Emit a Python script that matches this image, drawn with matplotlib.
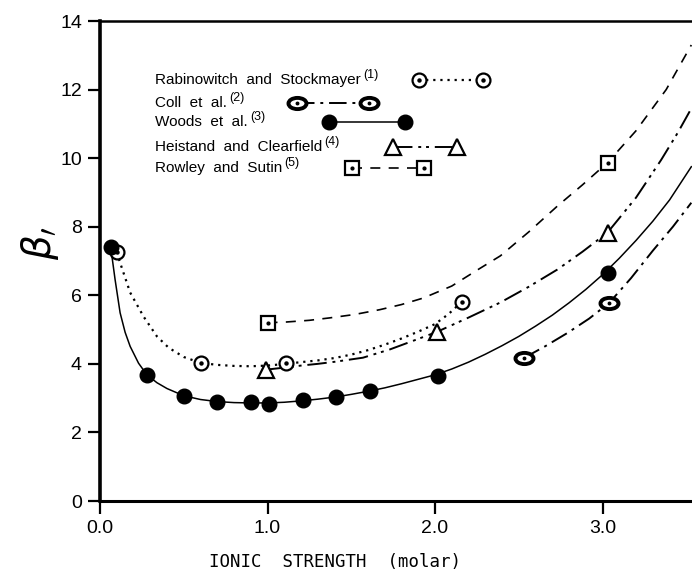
import numpy as np
import matplotlib
matplotlib.use("Agg")
import matplotlib.pyplot as plt
from matplotlib.path import Path

plt.rcParams['font.family'] = ['Liberation Sans', 'DejaVu Sans']

# ---------------- data ----------------
# measured points
rab_x = [0.10, 0.60, 1.11, 2.16]
rab_y = [7.26, 4.03, 4.03, 5.81]
coll_x = [2.53, 3.04]
coll_y = [4.17, 5.78]
woods_x = [0.064, 0.28, 0.50, 0.70, 0.90, 1.01, 1.21, 1.41, 1.61, 2.02, 3.03]
woods_y = [7.40, 3.68, 3.07, 2.90, 2.88, 2.84, 2.95, 3.03, 3.22, 3.65, 6.66]
heis_x = [0.99, 2.01, 3.03]
heis_y = [3.83, 4.93, 7.83]
rowl_x = [1.00, 3.03]
rowl_y = [5.20, 9.87]

# fitted curves
rab_cx = [0.10, 0.12, 0.18, 0.26, 0.34, 0.41, 0.50, 0.60, 0.70, 0.80, 0.90, 1.00, 1.11, 1.20, 1.30,
          1.40, 1.50, 1.60, 1.70, 1.80, 1.90, 2.00, 2.08, 2.16]
rab_cy = [7.26, 6.95, 6.08, 5.38, 4.80, 4.47, 4.20, 4.03, 3.97, 3.94, 3.93, 3.95, 4.00, 4.05, 4.10,
          4.17, 4.27, 4.40, 4.56, 4.74, 4.94, 5.16, 5.45, 5.81]
coll_cx = [2.53, 2.66, 2.79, 2.92, 3.04, 3.17, 3.30, 3.42, 3.53]
coll_cy = [4.17, 4.52, 4.90, 5.32, 5.78, 6.50, 7.30, 8.00, 8.70]
woods_cx = [0.064, 0.09, 0.12, 0.15, 0.18, 0.23, 0.28, 0.34, 0.40, 0.50, 0.60, 0.70, 0.80, 0.90,
            1.00, 1.10, 1.20, 1.30, 1.40, 1.50, 1.60, 1.70, 1.80, 1.90, 2.00, 2.10, 2.20, 2.30,
            2.40, 2.50, 2.60, 2.70, 2.80, 2.90, 3.00, 3.10, 3.20, 3.30, 3.40, 3.53]
woods_cy = [7.40, 6.46, 5.49, 4.92, 4.51, 4.02, 3.68, 3.45, 3.28, 3.07, 2.96, 2.90, 2.87, 2.86,
            2.86, 2.88, 2.92, 2.97, 3.03, 3.11, 3.20, 3.30, 3.42, 3.55, 3.68, 3.85, 4.05, 4.28,
            4.53, 4.80, 5.10, 5.42, 5.78, 6.17, 6.60, 7.08, 7.60, 8.16, 8.78, 9.75]
heis_cx = [0.99, 1.10, 1.20, 1.30, 1.40, 1.57, 1.73, 1.89, 2.01, 2.20, 2.39, 2.56, 2.73, 2.88,
           3.03, 3.20, 3.35, 3.45, 3.53]
heis_cy = [3.83, 3.89, 3.95, 4.00, 4.06, 4.18, 4.42, 4.71, 4.93, 5.35, 5.79, 6.25, 6.75, 7.27,
           7.83, 8.85, 9.95, 10.75, 11.45]
rowl_cx = [1.00, 1.11, 1.25, 1.37, 1.52, 1.67, 1.80, 1.93, 2.10, 2.25, 2.39, 2.56, 2.73, 2.88,
           3.03, 3.20, 3.38, 3.53]
rowl_cy = [5.20, 5.22, 5.27, 5.34, 5.44, 5.58, 5.73, 5.92, 6.27, 6.73, 7.15, 7.85, 8.60, 9.22,
           9.87, 10.80, 12.00, 13.30]

labels = ['Rabinowitch  and  Stockmayer', 'Coll  et  al.', 'Woods  et  al.',
          'Heistand  and  Clearfield', 'Rowley  and  Sutin']
refs = ['(1)', '(2)', '(3)', '(4)', '(5)']

xticks = [0.0, 1.0, 2.0, 3.0]
xticklabels = ['0.0', '1.0', '2.0', '3.0']
yticks = [0, 2, 4, 6, 8, 10, 12, 14]

# ---------------- styles ----------------
ell = Path.unit_circle()
ell = Path(ell.vertices * np.array([1.0, 0.62]), ell.codes)

ls_rab = (0, (1.0, 2.2))
ls_coll = (0, (9, 3, 1.5, 3))
ls_heis = (0, (10, 3, 1.5, 2.5, 1.5, 3))
ls_rowl = (0, (6, 5))

def dot_circle(ax, x, y, **kw):
    ax.plot(x, y, ls='none', marker='o', ms=10, mfc='white', mec='black', mew=1.6, zorder=5, **kw)
    ax.plot(x, y, ls='none', marker='o', ms=2.2, color='black', zorder=6, **kw)

def coll_mark(ax, x, y, **kw):
    ax.plot(x, y, ls='none', marker=ell, ms=13, mfc='white', mec='black', mew=2.8, zorder=5, **kw)
    ax.plot(x, y, ls='none', marker='o', ms=1.8, color='black', zorder=6, **kw)

def woods_mark(ax, x, y, **kw):
    ax.plot(x, y, ls='none', marker='o', ms=10.5, color='black', zorder=5, **kw)

def heis_mark(ax, x, y, **kw):
    ax.plot(x, y, ls='none', marker='^', ms=11, mfc='white', mec='black', mew=1.6, zorder=5, **kw)

def rowl_mark(ax, x, y, **kw):
    ax.plot(x, y, ls='none', marker='s', ms=10, mfc='white', mec='black', mew=1.6, zorder=5, **kw)
    ax.plot(x, y, ls='none', marker='o', ms=2.0, color='black', zorder=6, **kw)

# ---------------- figure ----------------
fig = plt.figure(figsize=(6.92, 5.86), dpi=100)
ax = fig.add_axes([100 / 692, 1 - 501 / 586, 1 - 100 / 692, (501 - 21) / 586])
ax.set_xlim(0, 3.534)
ax.set_ylim(0, 14)

ax.plot(rab_cx, rab_cy, color='black', lw=1.6, ls=ls_rab)
ax.plot(coll_cx, coll_cy, color='black', lw=1.4, ls=ls_coll)
ax.plot(woods_cx, woods_cy, color='black', lw=1.1, ls='-')
ax.plot(heis_cx, heis_cy, color='black', lw=1.4, ls=ls_heis)
ax.plot(rowl_cx, rowl_cy, color='black', lw=1.2, ls=ls_rowl)

dot_circle(ax, rab_x, rab_y)
coll_mark(ax, coll_x, coll_y)
woods_mark(ax, woods_x, woods_y)
heis_mark(ax, heis_x, heis_y)
rowl_mark(ax, rowl_x, rowl_y)

# legend (drawn manually as in the original figure)
tr = ax.transAxes
leg_rows = [0.877, 0.829, 0.790, 0.738, 0.694]
leg_x = [(0.539, 0.647), (0.333, 0.454), (0.387, 0.515), (0.495, 0.603), (0.426, 0.547)]
leg_ls = [ls_rab, ls_coll, '-', ls_heis, ls_rowl]
leg_lw = [1.6, 1.4, 1.1, 1.4, 1.2]
leg_mark = [dot_circle, coll_mark, woods_mark, heis_mark, rowl_mark]
for i in range(5):
    yy = leg_rows[i]
    x0, x1 = leg_x[i]
    ax.text(0.093, yy, labels[i], transform=tr, fontsize=11, va='center', ha='left')
    ax.plot([x0, x1], [yy, yy], transform=tr, color='black', lw=leg_lw[i], ls=leg_ls[i])
    leg_mark[i](ax, [x0, x1], [yy, yy], transform=tr)

# superscript references placed after each label
fig.canvas.draw()
renderer = fig.canvas.get_renderer()
for t, r in zip(ax.texts[:5], refs):
    bb = t.get_window_extent(renderer).transformed(tr.inverted())
    ax.text(bb.x1 + 0.004, bb.y1 - 0.004, r, transform=tr, fontsize=9, va='center', ha='left')

# axes styling
ax.spines['right'].set_visible(False)
ax.spines['left'].set_linewidth(2.6)
ax.spines['bottom'].set_linewidth(2.2)
ax.spines['top'].set_linewidth(1.8)
ax.set_xticks(xticks)
ax.set_xticklabels(xticklabels)
ax.set_yticks(yticks)
ax.tick_params(axis='both', direction='out', length=9, width=1.6, labelsize=14, color='black')
ax.tick_params(axis='y', pad=4)
ax.tick_params(axis='x', pad=5)
ax.tick_params(top=False, right=False)

fig.text(335 / 692, 1 - 562 / 586, 'IONIC  STRENGTH  (molar)', ha='center', va='center',
         fontsize=12.5, family=['DejaVu Sans Mono'])
fig.text(40 / 692, 1 - 243 / 586, r'$\beta_{\prime}$', rotation=90, ha='center', va='center', fontsize=28)

fig.savefig('out.png', dpi=100)
